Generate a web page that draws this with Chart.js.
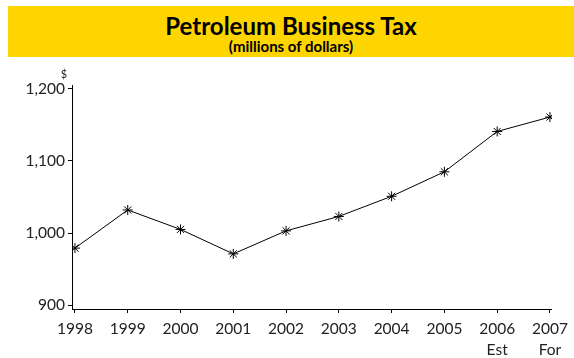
<!DOCTYPE html>
<html>
<head>
<meta charset="utf-8">
<script src="https://cdn.jsdelivr.net/npm/chart.js@4"></script>
<style>
  html, body { margin: 0; padding: 0; background: #fff; }
  #wrap { position: relative; width: 574px; height: 358px; }
  #banner {
    position: absolute; left: 8px; top: 6px; width: 566px; height: 51px;
    background: #fed500; font-family: Lato, sans-serif; font-weight: bold;
    color: #000; text-align: center; z-index: 2;
  }
  #banner .main { font-size: 24px; line-height: 24px; margin-top: 8px; }
  #banner .sub { font-size: 15px; line-height: 15px; margin-top: 1px; }
  canvas { position: absolute; left: 0; top: 0; }
</style>
</head>
<body>
<div id="wrap">
  <div id="banner">
    <div class="main">Petroleum Business Tax</div>
    <div class="sub">(millions of dollars)</div>
  </div>
  <canvas id="grafico" width="574" height="358"></canvas>
</div>
<script>
const years = [1998, 1999, 2000, 2001, 2002, 2003, 2004, 2005, 2006, 2007];
const yearLabels = ['1998', '1999', '2000', '2001', '2002', '2003', '2004', '2005', ['2006', 'Est'], ['2007', 'For']];
const revenue = [979, 1032, 1005, 971, 1003, 1023, 1051, 1085, 1141, 1161];
const yTicks = [900, 1000, 1100, 1200];

const ctx = document.getElementById('grafico').getContext('2d');

// small "$" unit mark above the value axis
const dollarSign = {
    id: 'dollarSign',
    afterDraw(chart) {
        const y = chart.scales.y;
        const c = chart.ctx;
        c.save();
        c.font = '11px Lato';
        c.fillStyle = '#222';
        c.textAlign = 'center';
        c.textBaseline = 'bottom';
        c.fillText('$', y.right - 8, y.top - 5);
        c.restore();
    }
};

const chart = new Chart(ctx, {
    type: 'line',
    data: {
        datasets: [
            {
                data: years.map((yr, i) => ({ x: yr, y: revenue[i] })),
                borderColor: '#000',
                borderWidth: 1,
                tension: 0,
                pointStyle: 'star',
                pointRadius: 5,
                pointBorderColor: '#000',
                pointBorderWidth: 1,
                fill: false
            }
        ]
    },
    options: {
        responsive: false,
        animation: false,
        layout: {
            padding: { top: 85, right: 18, bottom: 0, left: 0 }
        },
        scales: {
            x: {
                type: 'linear',
                min: 1997.944,
                max: 2007.038,
                afterFit: (scale) => { scale.height = 49; },
                afterBuildTicks: (scale) => { scale.ticks = years.map(v => ({ value: v })); },
                border: { color: '#000', width: 1 },
                grid: { drawOnChartArea: false, drawTicks: true, tickLength: 4, color: '#000' },
                ticks: {
                    autoSkip: false,
                    maxRotation: 0,
                    padding: 6,
                    color: '#222',
                    font: { family: 'Lato', size: 15.5, lineHeight: 1.35 },
                    callback: (value) => {
                        const i = years.indexOf(value);
                        return i < 0 ? '' : yearLabels[i];
                    }
                }
            },
            y: {
                min: 894.5,
                max: 1205.5,
                afterFit: (scale) => { scale.width = 72; },
                afterBuildTicks: (scale) => { scale.ticks = yTicks.map(v => ({ value: v })); },
                border: { color: '#000', width: 1 },
                grid: { drawOnChartArea: false, drawTicks: true, tickLength: 4, color: '#000' },
                ticks: {
                    padding: 3,
                    color: '#222',
                    font: { family: 'Lato', size: 15.5 },
                    callback: (value) => value.toLocaleString('en-US')
                }
            }
        },
        plugins: {
            legend: { display: false },
            tooltip: { enabled: false }
        }
    },
    plugins: [dollarSign]
});
</script>
</body>
</html>
